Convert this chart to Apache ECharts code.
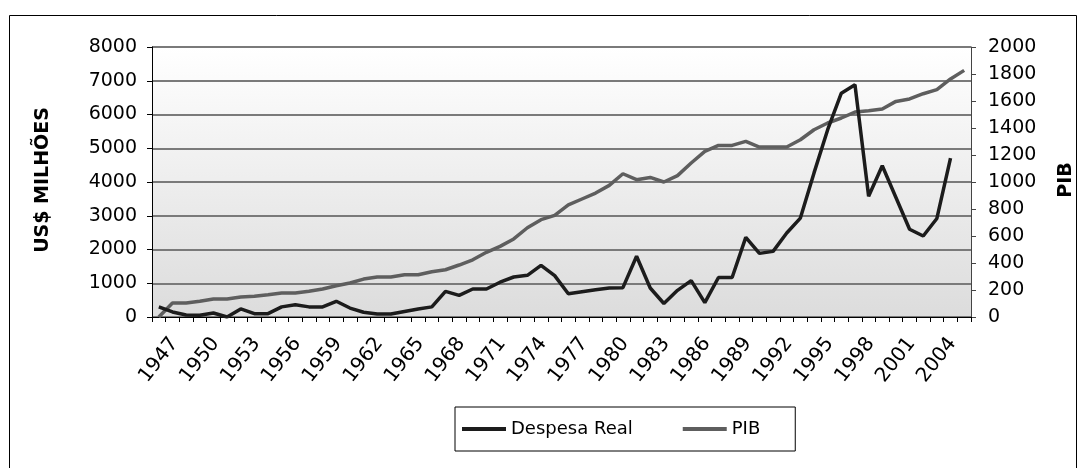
<!DOCTYPE html>
<html>
<head>
<meta charset="utf-8">
<script src="https://cdn.jsdelivr.net/npm/echarts@6/dist/echarts.min.js"></script>
<style>
html,body{margin:0;padding:0;background:#fff;}
#c{width:1085px;height:468px;}
</style>
</head>
<body>
<div id="c"></div>
<script>
var years = ['1947','1948','1949','1950','1951','1952','1953','1954','1955','1956',
  '1957','1958','1959','1960','1961','1962','1963','1964','1965','1966',
  '1967','1968','1969','1970','1971','1972','1973','1974','1975','1976',
  '1977','1978','1979','1980','1981','1982','1983','1984','1985','1986',
  '1987','1988','1989','1990','1991','1992','1993','1994','1995','1996',
  '1997','1998','1999','2000','2001','2002','2003','2004','2005','2006'];

var despesaReal = [300,150,60,50,120,0,240,100,100,300,
  360,300,300,465,265,140,90,90,165,235,
  300,760,640,830,830,1030,1185,1235,1530,1225,
  690,750,810,860,870,1800,860,400,790,1080,
  425,1170,1170,2360,1885,1945,2490,2930,4270,5550,
  6630,6880,3580,4480,3540,2600,2400,2920,4710,null];

var pib = [0,104,104,116,133,133,148,153,165,178,
  178,190,207,232,252,281,296,296,313,313,
  335,350,385,424,479,523,578,661,721,753,
  830,874,918,975,1061,1017,1034,1000,1047,1141,
  1227,1271,1271,1301,1259,1259,1259,1313,1387,1437,
  1474,1518,1528,1541,1597,1615,1654,1684,1763,1827];

var leftTicks = {min:0, max:8000, interval:1000};
var rightTicks = {min:0, max:2000, interval:200};

var FONT = 'DejaVu Sans';
function plain(v){ return String(v); }
var chart = echarts.init(document.getElementById('c'), null, {renderer:'canvas'});
chart.setOption({
  animation:false,
  backgroundColor:'#ffffff',
  grid:{
    left:152, right:114, top:47, bottom:151,
    show:true, borderWidth:0,
    backgroundColor:new echarts.graphic.LinearGradient(0,0,0,1,[
      {offset:0,color:'#ffffff'},{offset:1,color:'#dcdcdc'}])
  },
  graphic:[
    {type:'rect', shape:{x:9.5,y:15.5,width:1067,height:470}, style:{fill:'none',stroke:'#000',lineWidth:1}, z:-1},
    {type:'text', x:43, y:180, rotation:Math.PI/2,
     style:{text:'US$ MILHÕES', font:'bold 19px "DejaVu Sans"', fill:'#000', align:'center', verticalAlign:'middle'}},
    {type:'text', x:1066, y:180, rotation:Math.PI/2,
     style:{text:'PIB', font:'bold 19px "DejaVu Sans"', fill:'#000', align:'center', verticalAlign:'middle'}}
  ],
  legend:{
    left:455, top:407,
    padding:[13,35,13,7],
    borderColor:'#000', borderWidth:1, backgroundColor:'#fff',
    itemWidth:44, itemHeight:4, itemGap:50,
    icon:'rect',
    textStyle:{fontFamily:FONT, fontSize:18, color:'#000'},
    data:['Despesa Real','PIB']
  },
  xAxis:{
    type:'category', data:years, boundaryGap:true,
    axisLine:{lineStyle:{color:'#000',width:1}},
    axisTick:{show:true, interval:0, length:5, lineStyle:{color:'#000'}},
    axisLabel:{interval:2, rotate:52, align:'center', verticalAlign:'middle', margin:43,
      fontFamily:FONT, fontSize:20, color:'#000'},
    splitLine:{show:false}
  },
  yAxis:[
    {type:'value', min:leftTicks.min, max:leftTicks.max, interval:leftTicks.interval, position:'left',
     axisLine:{show:true, lineStyle:{color:'#000',width:1}},
     axisTick:{show:true, length:5, lineStyle:{color:'#000'}},
     axisLabel:{margin:15, fontFamily:FONT, fontSize:19, color:'#000', formatter:plain},
     splitLine:{show:true, lineStyle:{color:'#7a7a7a', width:2}}
    },
    {type:'value', min:rightTicks.min, max:rightTicks.max, interval:rightTicks.interval, position:'right',
     axisLine:{show:true, lineStyle:{color:'#444',width:1}},
     axisTick:{show:true, length:5, lineStyle:{color:'#444'}},
     axisLabel:{margin:17, fontFamily:FONT, fontSize:19, color:'#000', formatter:plain},
     splitLine:{show:false}
    }
  ],
  series:[
    {name:'Despesa Real', type:'line', yAxisIndex:0, data:despesaReal, symbol:'none',
     lineStyle:{color:'#1c1c1c', width:3.5}, itemStyle:{color:'#1c1c1c'}, z:3},
    {name:'PIB', type:'line', yAxisIndex:1, data:pib, symbol:'none',
     lineStyle:{color:'#5e5e5e', width:3.5}, itemStyle:{color:'#5e5e5e'}, z:2}
  ]
});
</script>
</body>
</html>
